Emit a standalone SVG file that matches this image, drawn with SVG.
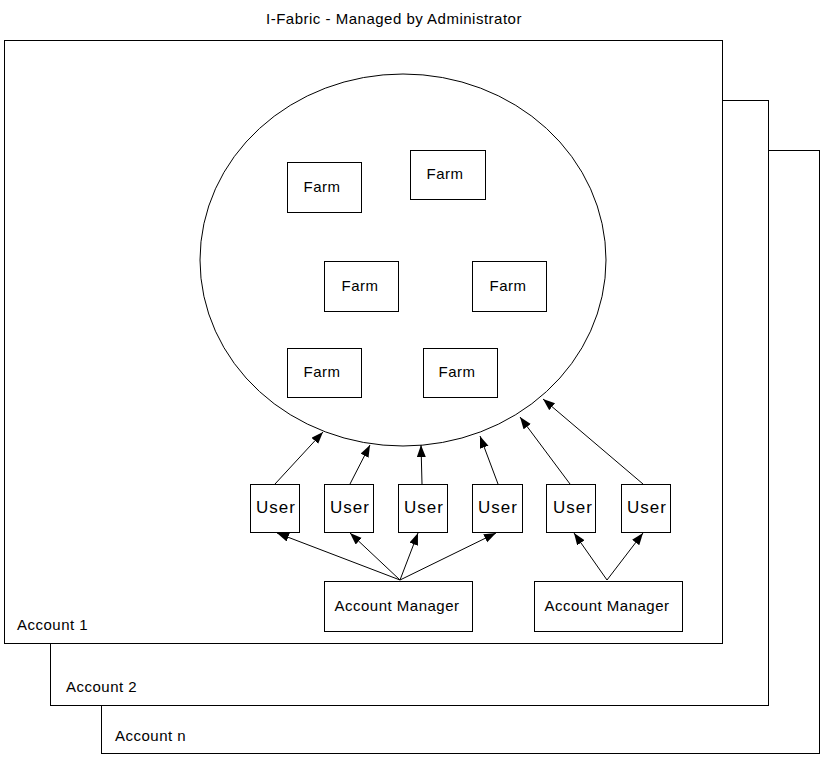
<svg xmlns="http://www.w3.org/2000/svg" width="822" height="757" viewBox="0 0 822 757">
<style>
.b{fill:#fff;stroke:#000;stroke-width:1}
.t{font-family:"Liberation Sans",Arial,sans-serif;font-size:15px;letter-spacing:0.5px;fill:#000}
.c{text-anchor:middle}
.u{font-size:17px;letter-spacing:1px}
.e{stroke:#000;stroke-width:1;fill:none;marker-end:url(#ah)}
</style>
<defs>
<marker id="ah" markerUnits="userSpaceOnUse" markerWidth="13" markerHeight="10" refX="12" refY="4.5" orient="auto">
<path d="M0,0 L12,4.5 L0,9 z" fill="#000"/>
</marker>
</defs>
<rect width="822" height="757" fill="#fff"/>
<text class="t c" x="394" y="24">I-Fabric - Managed by Administrator</text>
<g id="account-n"><rect class="b" x="101.5" y="150.5" width="718" height="603"/><text class="t" x="115" y="741">Account n</text></g>
<g id="account-2"><rect class="b" x="50.5" y="100.5" width="718" height="605"/><text class="t" x="66" y="692">Account 2</text></g>
<g id="account-1"><rect class="b" x="4.5" y="40.5" width="718" height="603"/><text class="t" x="17" y="630">Account 1</text></g>
<g id="fabric"><ellipse class="b" cx="403" cy="260" rx="203" ry="186"/></g>
<g id="farm1"><rect class="b" x="287.5" y="162.5" width="74" height="50"/><text class="t c" x="322" y="192">Farm</text></g>
<g id="farm2"><rect class="b" x="410.5" y="150.5" width="75" height="49"/><text class="t c" x="445" y="179">Farm</text></g>
<g id="farm3"><rect class="b" x="324.5" y="261.5" width="74" height="50"/><text class="t c" x="360" y="291">Farm</text></g>
<g id="farm4"><rect class="b" x="472.5" y="261.5" width="74" height="50"/><text class="t c" x="508" y="291">Farm</text></g>
<g id="farm5"><rect class="b" x="287.5" y="348.5" width="74" height="49"/><text class="t c" x="322" y="377">Farm</text></g>
<g id="farm6"><rect class="b" x="423.5" y="348.5" width="74" height="49"/><text class="t c" x="457" y="377">Farm</text></g>
<g id="user1"><rect class="b" x="250.5" y="484.5" width="49" height="48"/><text class="t u c" x="276" y="513">User</text></g>
<g id="user2"><rect class="b" x="324.5" y="484.5" width="49" height="48"/><text class="t u c" x="350" y="513">User</text></g>
<g id="user3"><rect class="b" x="398.5" y="484.5" width="49" height="48"/><text class="t u c" x="424" y="513">User</text></g>
<g id="user4"><rect class="b" x="472.5" y="484.5" width="50" height="48"/><text class="t u c" x="498" y="513">User</text></g>
<g id="user5"><rect class="b" x="546.5" y="484.5" width="49" height="48"/><text class="t u c" x="573" y="513">User</text></g>
<g id="user6"><rect class="b" x="621.5" y="484.5" width="49" height="48"/><text class="t u c" x="647" y="513">User</text></g>
<g id="manager1"><rect class="b" x="324.5" y="581.5" width="148" height="50"/><text class="t c" x="397" y="611">Account Manager</text></g>
<g id="manager2"><rect class="b" x="534.5" y="581.5" width="148" height="50"/><text class="t c" x="607" y="611">Account Manager</text></g>
<g id="connectors">
<line class="e" x1="275" y1="484" x2="323" y2="432"/>
<line class="e" x1="350" y1="484" x2="370" y2="445"/>
<line class="e" x1="422" y1="484" x2="421" y2="445"/>
<line class="e" x1="498" y1="484" x2="480" y2="436"/>
<line class="e" x1="570" y1="484" x2="520" y2="417"/>
<line class="e" x1="643" y1="484" x2="543" y2="399"/>
<line class="e" x1="400" y1="580" x2="277" y2="533"/>
<line class="e" x1="400" y1="580" x2="350" y2="533"/>
<line class="e" x1="400" y1="580" x2="418" y2="533"/>
<line class="e" x1="400" y1="580" x2="496" y2="533"/>
<line class="e" x1="607" y1="580" x2="574" y2="533"/>
<line class="e" x1="607" y1="580" x2="643" y2="533"/>
</g>
</svg>
